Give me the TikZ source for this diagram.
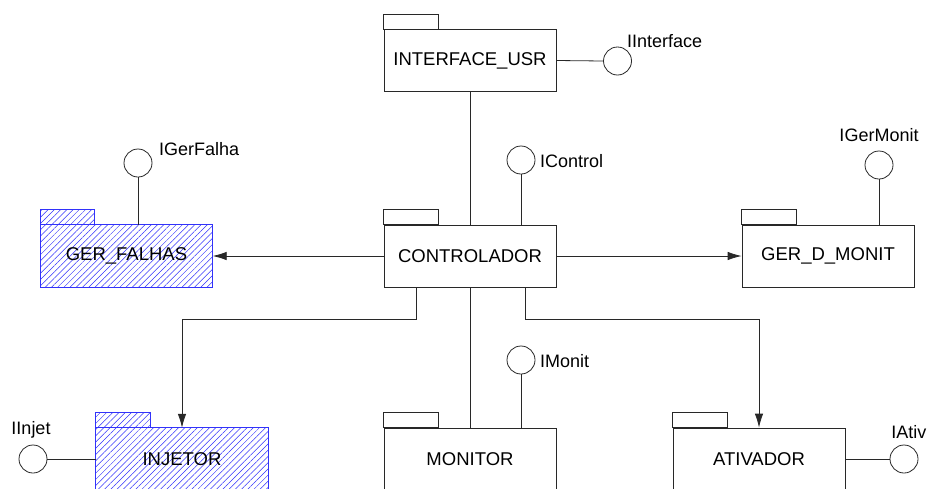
\documentclass[tikz,border=0pt]{standalone}
\usepackage{fontspec}
\setmainfont{Liberation Sans}
\usetikzlibrary{arrows.meta,patterns.meta}
\definecolor{wire}{RGB}{40,40,40}
\definecolor{hatch}{RGB}{50,50,250}
\begin{document}
\begin{tikzpicture}[x=1pt,y=-1pt,
  font=\fontsize{18.5}{20}\selectfont,
  pkg/.style={draw=wire,line width=0.8pt,fill=white,minimum width=172pt,minimum height=62pt,inner sep=0pt},
  hpkg/.style={minimum width=172pt,minimum height=62pt,inner sep=0pt},
  hatched/.style={draw=hatch,line width=0.8pt,pattern={Lines[angle=45,distance=4.4pt,line width=0.5pt]},pattern color=hatch},
  iface/.style={draw=wire,line width=0.8pt,fill=white,circle,minimum size=28pt,inner sep=0pt},
  lbl/.style={inner sep=0pt,font=\fontsize{18}{20}\selectfont},
  wireline/.style={draw=wire,line width=0.8pt},
  flow/.style={wireline,-{Latex[length=14pt,width=8.5pt]}}]
\useasboundingbox (0,0) rectangle (927,488);
\clip (0,0) rectangle (927,488);

% package boxes
\node[pkg] (usr) at (470,60.5) {};
\node[pkg] (ctl) at (470,256) {};
\node[hpkg] (fal) at (126.5,256) {};
\node[pkg] (mon) at (828,256) {};
\node[hpkg] (inj) at (182,459) {};
\node[pkg] (mnt) at (470,459) {};
\node[pkg] (atv) at (759,459) {};

% hatched packages
\path[hatched] (fal.north west) rectangle (fal.south east);
\path[hatched] (inj.north west) rectangle (inj.south east);

% package tabs
\foreach \p in {usr,ctl,mon,mnt,atv}
  \draw[wireline] (\p.north west) rectangle ++(54.5,-15);
\foreach \p in {fal,inj}
  \path[hatched] (\p.north west) rectangle ++(54.5,-15);

% package names
\node at (usr.center) {INTERFACE\_USR};
\node at (ctl.center) {CONTROLADOR};
\node at (fal.center) {GER\_FALHAS};
\node at (mon.center) {GER\_D\_MONIT};
\node at (inj.center) {INJETOR};
\node at (mnt.center) {MONITOR};
\node at (atv.center) {ATIVADOR};

% provided interfaces
\node[iface] (iUsr) at (617.5,61) {};
\node[iface] (iCtl) at (521,160) {};
\node[iface] (iFal) at (138,163) {};
\node[iface] (iMon) at (879,165) {};
\node[iface] (iMnt) at (521,360) {};
\node[iface] (iInj) at (33,459) {};
\node[iface] (iAtv) at (904,459) {};

\node[lbl,anchor=west] (tUsr) at (627,41) {IInterface};
\node[lbl,anchor=west] (tCtl) at (540,161) {IControl};
\node[lbl,anchor=west] (tFal) at (159,149) {IGerFalha};
\node[lbl] (tMon) at (879,135) {IGerMonit};
\node[lbl,anchor=west] (tMnt) at (540,361) {IMonit};
\node[lbl] (tInj) at (31,430) {IInjet};
\node[lbl,anchor=east] (tAtv) at (926.5,432) {IAtiv};

% interface lollipops
\draw[wireline] (usr.east) -- (iUsr.west);
\draw[wireline] (iCtl.south) -- (iCtl.south |- ctl.north);
\draw[wireline] (iFal.south) -- (iFal.south |- fal.north);
\draw[wireline] (iMon.south) -- (iMon.south |- mon.north);
\draw[wireline] (iMnt.south) -- (iMnt.south |- mnt.north);
\draw[wireline] (iInj.east) -- (inj.west);
\draw[wireline] (atv.east) -- (iAtv.west);

% dependencies
\coordinate (cl) at ([xshift=-54pt]ctl.south);
\coordinate (cr) at ([xshift=55pt]ctl.south);
\draw[wireline] (usr.south) -- (ctl.north);
\draw[flow] (ctl.west) -- (fal.east);
\draw[flow] (ctl.east) -- (mon.west);
\draw[wireline] (ctl.south) -- (mnt.north);
\draw[flow] (cl) |- (182,319) -- (inj.north);
\draw[flow] (cr) |- (759,319) -- (atv.north);
\end{tikzpicture}
\end{document}
